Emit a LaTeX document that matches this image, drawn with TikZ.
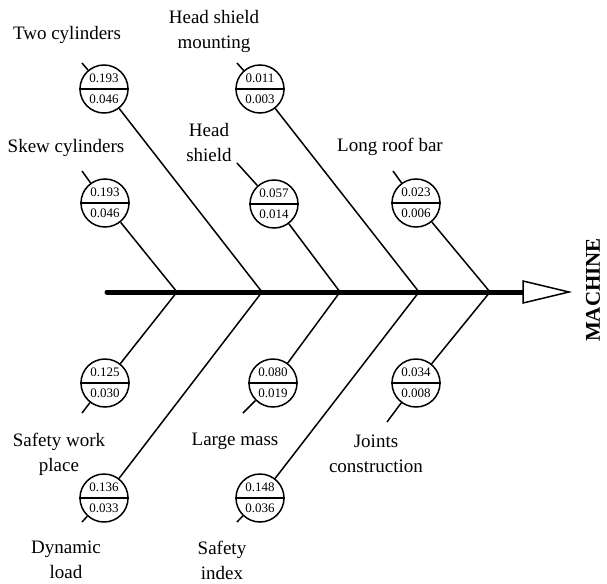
\documentclass[tikz,border=0pt]{standalone}
\usepackage{fontspec}
\setmainfont{Liberation Serif}
\tikzset{
  factor/.style={draw, circle, line width=1.5pt, minimum size=48pt, inner sep=0pt, fill=white},
  bone/.style={line width=1.5pt},
  cause/.style={font=\fontsize{19}{25}\selectfont, align=center, inner sep=0pt},
  weight/.style={font=\fontsize{13}{15}\selectfont, inner sep=0pt},
}
% circle with two weights: name, x, y, upper, lower
\newcommand{\factornode}[5]{%
  \node[factor] (#1) at (#2,#3) {};
  \draw[line width=2.2pt] (#1.west) -- (#1.east);
  \node[weight] (#1u) at ([yshift=10.5pt]#1.center) {#4};
  \node[weight] (#1l) at ([yshift=-10pt]#1.center) {#5};
}
\begin{document}
\begin{tikzpicture}[x=1pt, y=-1pt]
	\useasboundingbox (0,0) rectangle (607,583);
	% Spine
	\coordinate (tail) at (107,292);
	\coordinate (head) at (523,292);
	\coordinate (j1) at (177,292);
	\coordinate (j2) at (262,292);
	\coordinate (j3) at (340,292);
	\coordinate (j4) at (419,292);
	\coordinate (j5) at (490,292);
	\draw[line width=5pt, line cap=round] (tail) -- (head);
	\draw[line width=1.5pt, fill=white] (523,281) -- (569,292) -- (523,303) -- cycle;
	\node[rotate=90, inner sep=0pt, font=\fontsize{21}{21}\selectfont\bfseries] (machine) at (593,290) {MACHINE};
	% Upper causes
	\factornode{twocyl}{104}{89}{0.193}{0.046}
	\factornode{mount}{260}{89}{0.011}{0.003}
	\factornode{skew}{105}{203}{0.193}{0.046}
	\factornode{shield}{274}{204}{0.057}{0.014}
	\factornode{roof}{416}{203}{0.023}{0.006}
	% Lower causes
	\factornode{work}{105}{383}{0.125}{0.030}
	\factornode{mass}{273}{383}{0.080}{0.019}
	\factornode{joints}{416}{383}{0.034}{0.008}
	\factornode{dynamic}{104}{498}{0.136}{0.033}
	\factornode{index}{260}{498}{0.148}{0.036}
	% Bones
	\draw[bone] (twocyl) -- (j2);
	\draw[bone] (mount) -- (j4);
	\draw[bone] (skew) -- (j1);
	\draw[bone] (shield) -- (j3);
	\draw[bone] (roof) -- (j5);
	\draw[bone] (work) -- (j1);
	\draw[bone] (mass) -- (j3);
	\draw[bone] (joints) -- (j5);
	\draw[bone] (dynamic) -- (j2);
	\draw[bone] (index) -- (j4);
	% Ticks
	\coordinate (t1) at (82,63);
	\coordinate (t2) at (237,63);
	\coordinate (t3) at (82,171);
	\coordinate (t4) at (237,163);
	\coordinate (t5) at (393,171);
	\coordinate (t6) at (82,413);
	\coordinate (t7) at (243,413);
	\coordinate (t8) at (387,422);
	\coordinate (t9) at (82,522);
	\coordinate (t10) at (237,522);
	\draw[bone] (twocyl) -- (t1);
	\draw[bone] (mount) -- (t2);
	\draw[bone] (skew) -- (t3);
	\draw[bone] (shield) -- (t4);
	\draw[bone] (roof) -- (t5);
	\draw[bone] (work) -- (t6);
	\draw[bone] (mass) -- (t7);
	\draw[bone] (joints) -- (t8);
	\draw[bone] (dynamic) -- (t9);
	\draw[bone] (index) -- (t10);
	% Labels
	\node[cause] (ltwocyl) at (67,35) {Two cylinders};
	\node[cause] (lmount) at (214,31) {Head shield\\mounting};
	\node[cause] (lskew) at (66,148) {Skew cylinders};
	\node[cause] (lshield) at (209,143) {Head\\shield};
	\node[cause] (lroof) at (390,147) {Long roof bar};
	\node[cause] (lwork) at (59,454) {Safety work\\place};
	\node[cause] (lmass) at (235,441) {Large mass};
	\node[cause] (ljoints) at (376,454) {Joints\\construction};
	\node[cause] (ldynamic) at (66,560) {Dynamic\\load};
	\node[cause] (lindex) at (222,560) {Safety\\index};
\end{tikzpicture}
\end{document}
